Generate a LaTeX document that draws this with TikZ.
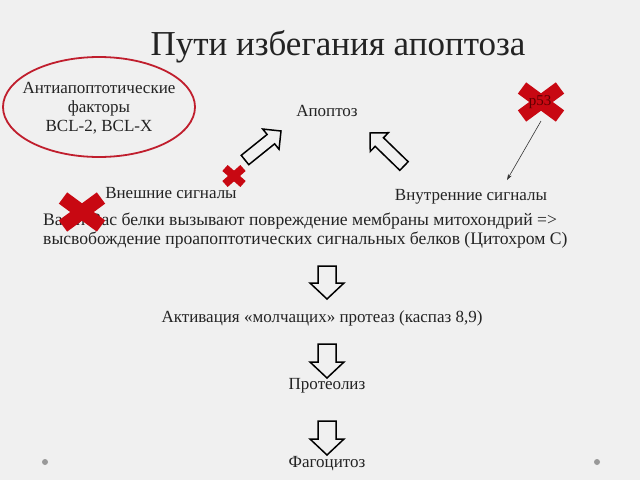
\documentclass[tikz,border=0pt]{standalone}
\usepackage{fontspec}
\setmainfont{Liberation Serif}
\usetikzlibrary{calc,arrows.meta,shapes.geometric}
\definecolor{bg}{RGB}{240,240,240}
\definecolor{xred}{RGB}{200,8,18}
\definecolor{ellred}{RGB}{192,30,45}
\definecolor{txt}{RGB}{35,35,35}
\definecolor{ptext}{RGB}{95,0,0}
\newcommand\blockarr[5]{%
  \draw[blockarrow] ($(#1)!#3!90:(#2)$) -- ($($(#2)!#5!(#1)$)!#3!90:(#2)$)
    -- ($($(#2)!#5!(#1)$)!#4!90:(#2)$) -- (#2)
    -- ($($(#2)!#5!(#1)$)!#4!-90:(#2)$) -- ($($(#2)!#5!(#1)$)!#3!-90:(#2)$)
    -- ($(#1)!#3!-90:(#2)$) -- cycle;}
\newcommand\redcross[4]{%
  \draw[crossarm=#4] ($(#1)+(-#2,-#3)$) -- ($(#1)+(#2,#3)$);
  \draw[crossarm=#4] ($(#1)+(-#2,#3)$) -- ($(#1)+(#2,-#3)$);}
\begin{document}
\begin{tikzpicture}[x=1pt,y=-1pt,
  lbl/.style={font=\fontsize{17}{19}\selectfont, text=txt, inner sep=0pt},
  blockarrow/.style={draw=black, line width=1.5pt, fill=bg, line join=miter},
  crossarm/.style={line width=#1, draw=xred, line cap=butt},
]
\fill[bg] (0,0) rectangle (640,480);
\useasboundingbox (0,0) rectangle (640,480);

\node[font=\fontsize{35}{40}\selectfont, text=txt, inner sep=0pt] (title) at (338,47) {Пути избегания апоптоза};

\node[ellipse, draw=ellred, line width=1.8pt, minimum width=192pt, minimum height=100pt,
      inner sep=0pt] (anti) at (99,107) {};
\node[lbl, align=center] (antitext) at (99,108) {Антиапоптотические\\факторы\\BCL-2, BCL-X};

\node[lbl] (apo) at (327,111) {Апоптоз};

\coordinate (la1) at (245,160); \coordinate (la2) at (281,131);
\coordinate (ra1) at (404,166); \coordinate (ra2) at (370,133);
\blockarr{la1}{la2}{6pt}{13pt}{13pt}
\blockarr{ra1}{ra2}{6pt}{13pt}{13pt}

\node[lbl] (ext) at (171,193) {Внешние сигналы};
\node[lbl] (int) at (471,197) {Внутренние сигналы};

\node[lbl, font=\fontsize{17.6}{19}\selectfont, align=left, anchor=west] (bax) at (43,231)
  {Bax и Bac белки вызывают повреждение мембраны митохондрий =>\\
   высвобождение проапоптотических сигнальных белков (Цитохром С)};

\coordinate (d1a) at (327,266); \coordinate (d1b) at (327,299);
\blockarr{d1a}{d1b}{9pt}{17pt}{16pt}
\node[lbl] (act) at (322,318) {Активация «молчащих» протеаз (каспаз 8,9)};

\coordinate (d2a) at (327,344); \coordinate (d2b) at (327,378);
\blockarr{d2a}{d2b}{9pt}{17pt}{16pt}
\node[lbl] (prot) at (327,386) {Протеолиз};

\coordinate (d3a) at (327,421); \coordinate (d3b) at (327,455);
\blockarr{d3a}{d3b}{9pt}{17pt}{16pt}
\node[lbl] (phag) at (327,464) {Фагоцитоз};

\fill[gray!80] (45,462) circle (3pt);
\fill[gray!80] (597,462) circle (3pt);

% red crosses
\coordinate (xbig) at (82,212);
\redcross{xbig}{19}{14}{14pt}
\coordinate (xsmall) at (234,176);
\redcross{xsmall}{9}{8}{8pt}
\coordinate (xp) at (541,102);
\redcross{xp}{19}{14}{14pt}
\node[font=\fontsize{15}{17}\selectfont, text=ptext, inner sep=0pt] (p53) at (540,102) {p53};

\coordinate (pstart) at (541,121);
\draw[-{Stealth[length=6pt,width=4pt]}, line width=0.6pt, black!80] (pstart) -- (507,180);
\end{tikzpicture}
\end{document}
